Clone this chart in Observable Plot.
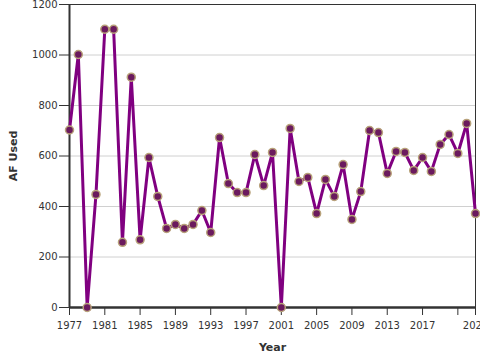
<!DOCTYPE html>
<html>
<head>
<meta charset="utf-8">
<script src="https://cdn.jsdelivr.net/npm/d3@7"></script>
<script src="https://cdn.jsdelivr.net/npm/@observablehq/plot@0.6"></script>
<style>
  html, body { margin: 0; padding: 0; background: #fff; }
  #chart svg { font-family: "DejaVu Sans", sans-serif; }
  #chart svg [aria-label="y-axis label"] text,
  #chart svg [aria-label="x-axis label"] text { font-weight: bold; font-size: 11px; }
</style>
</head>
<body>
<div id="chart"></div>
<script>
const years = [1977,1978,1979,1980,1981,1982,1983,1984,1985,1986,1987,1988,1989,1990,1991,1992,1993,1994,1995,1996,1997,1998,1999,2000,2001,2002,2003,2004,2005,2006,2007,2008,2009,2010,2011,2012,2013,2014,2015,2016,2017,2018,2019,2020,2021,2022,2023];
const afUsed = [703,1002,0,448,1102,1102,258,912,268,594,440,313,329,313,329,384,297,673,491,455,455,606,483,614,0,709,499,515,372,507,440,566,349,459,701,693,531,618,614,543,594,539,646,685,610,729,372];
const xTicks = [1977,1981,1985,1989,1993,1997,2001,2005,2009,2013,2017,2021,2023];
const xTickLabels = ["1977","1981","1985","1989","1993","1997","2001","2005","2009","2013","2017","","2023"];
const yTicks = [0,200,400,600,800,1000,1200];
const yTickLabels = ["0","200","400","600","800","1000","1200"];

const data = years.map((y, i) => ({year: y, value: afUsed[i]}));

const chart = Plot.plot({
  width: 480,
  height: 360,
  marginLeft: 69,
  marginRight: 5,
  marginTop: 4,
  marginBottom: 53,
  style: {fontFamily: "DejaVu Sans, sans-serif", fontSize: "10px", color: "#333", background: "#fff"},
  x: {domain: [1977, 2023], label: null},
  y: {domain: [0, 1200], label: null},
  marks: [
    Plot.gridY(yTicks, {stroke: "#d0d0d0", strokeOpacity: 1}),
    Plot.frame({stroke: "#333", strokeWidth: 1}),
    Plot.axisX({ticks: xTicks, tickFormat: (d) => xTickLabels[xTicks.indexOf(d)], tickSize: 8, tickPadding: 6,
      label: "Year", labelAnchor: "center", labelArrow: "none", labelOffset: 43, stroke: "#333"}),
    Plot.axisY({ticks: yTicks, tickFormat: (d) => yTickLabels[yTicks.indexOf(d)], tickSize: 10, tickPadding: 2,
      label: "AF Used", labelAnchor: "center", labelArrow: "none", labelOffset: 60, stroke: "#333"}),
    Plot.ruleX([1977], {stroke: "#333", strokeWidth: 2}),
    Plot.ruleY([0], {stroke: "#333", strokeWidth: 2.5}),
    Plot.line(data, {x: "year", y: "value", stroke: "#800080", strokeWidth: 3}),
    Plot.dot(data, {x: "year", y: "value", r: 4, fill: "#6b1a5e", stroke: "#b8a27a", strokeWidth: 1.5})
  ]
});
document.getElementById("chart").appendChild(chart);
</script>
</body>
</html>
